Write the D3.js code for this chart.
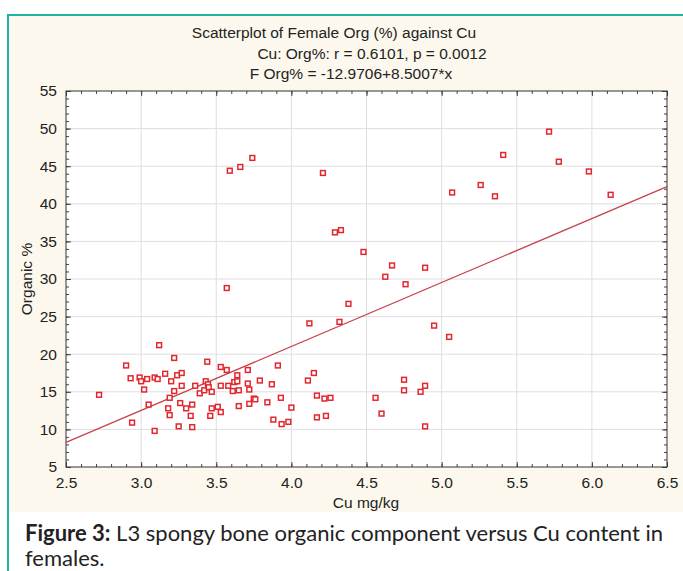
<!DOCTYPE html>
<html>
<head>
<meta charset="utf-8">
<script src="https://cdn.jsdelivr.net/npm/d3@7"></script>
<style>
  body { margin: 0; background: #ffffff; }
  svg { display: block; }
</style>
</head>
<body>
<div id="chart"></div>
<script>
// Cu content (mg/kg) for each female sample
var cuValues = [
    2.72, 2.90, 2.93, 2.94, 2.99, 3.00, 3.02, 3.04, 3.05, 3.09,
    3.09, 3.11, 3.12, 3.16, 3.18, 3.19, 3.19, 3.20, 3.22, 3.22,
    3.24, 3.25, 3.26, 3.27, 3.27, 3.30, 3.33, 3.34, 3.34, 3.36,
    3.39, 3.42, 3.43, 3.44, 3.445, 3.45, 3.46, 3.47, 3.47, 3.51,
    3.53, 3.53, 3.53, 3.57, 3.58, 3.61, 3.62, 3.64, 3.64, 3.65,
    3.65, 3.71, 3.71, 3.72, 3.72, 3.75, 3.76, 3.79, 3.84, 3.87,
    3.88, 3.91, 3.93, 3.935, 3.98, 4.00, 4.12, 4.11, 4.15, 4.17,
    4.22, 4.26, 4.17, 4.23, 4.56, 4.60, 4.75, 4.75, 4.86, 4.89,
    4.89, 4.38, 4.32, 4.95, 5.05, 3.59, 3.66, 3.74, 4.21, 4.29,
    4.33, 4.48, 4.67, 4.625, 3.57, 4.76, 4.89, 5.07, 5.26, 5.355,
    5.41, 5.715, 5.78, 5.98, 6.125
];

// Organic component (%) for the same samples
var orgValues = [
    14.6, 18.5, 16.8, 10.9, 16.9, 16.4, 15.3, 16.7, 13.3, 9.8,
    16.9, 16.7, 21.2, 17.4, 12.8, 14.2, 11.9, 16.4, 15.1, 19.5,
    17.2, 10.4, 13.5, 17.5, 15.8, 12.8, 11.8, 10.3, 13.3, 15.8,
    14.8, 15.2, 16.4, 19.0, 16.0, 15.6, 11.8, 15.0, 12.8, 13.0,
    18.3, 15.8, 12.3, 17.9, 15.8, 15.1, 16.3, 17.2, 16.4, 13.1,
    15.2, 17.9, 16.1, 15.3, 13.4, 14.1, 14.0, 16.5, 13.6, 16.0,
    11.3, 18.5, 14.2, 10.7, 11.0, 12.9, 24.1, 16.5, 17.5, 14.5,
    14.1, 14.2, 11.6, 11.8, 14.2, 12.1, 16.6, 15.2, 15.0, 15.8,
    10.4, 26.7, 24.3, 23.8, 22.3, 44.4, 44.9, 46.1, 44.1, 36.2,
    36.5, 33.6, 31.8, 30.3, 28.8, 29.3, 31.5, 41.5, 42.5, 41.0,
    46.5, 49.6, 45.6, 44.3, 41.2
];

// Axis ticks
var xTicks = [2.5, 3.0, 3.5, 4.0, 4.5, 5.0, 5.5, 6.0, 6.5];
var yTicks = [5, 10, 15, 20, 25, 30, 35, 40, 45, 50, 55];

// Regression line: F Org% = -12.9706 + 8.5007*x
var fitIntercept = -12.9706;
var fitSlope = 8.5007;

var titleLines = [
    "Scatterplot of Female Org (%) against Cu",
    "Cu: Org%: r = 0.6101, p = 0.0012",
    "F Org% = -12.9706+8.5007*x"
];

var width = 683, height = 571;
var plot = { left: 66, right: 667, top: 91, bottom: 467 };

var svg = d3.select("#chart")
    .append("svg")
    .attr("width", width)
    .attr("height", height);

// Cream panel with teal frame
svg.append("rect")
    .attr("x", 9).attr("y", 16)
    .attr("width", width - 9).attr("height", 496)
    .style("fill", "#fcf8ed");
svg.append("line")
    .attr("x1", 8).attr("x2", width).attr("y1", 15).attr("y2", 15)
    .style("stroke", "#1fb5a2").style("stroke-width", 2);
svg.append("line")
    .attr("x1", 8).attr("x2", 8).attr("y1", 14).attr("y2", height)
    .style("stroke", "#1fb5a2").style("stroke-width", 2);

var x = d3.scaleLinear().domain([2.5, 6.5]).range([plot.left, plot.right]);
var y = d3.scaleLinear().domain([5, 55]).range([plot.bottom, plot.top]);

// Plot background
svg.append("rect")
    .attr("x", plot.left).attr("y", plot.top)
    .attr("width", plot.right - plot.left).attr("height", plot.bottom - plot.top)
    .style("fill", "#ffffff");

// Grid lines
svg.append("g").selectAll("line")
    .data(xTicks.slice(1, -1))
    .enter().append("line")
    .attr("x1", function (d) { return x(d); })
    .attr("x2", function (d) { return x(d); })
    .attr("y1", plot.top).attr("y2", plot.bottom)
    .style("stroke", "#dedede").style("stroke-width", 1);

svg.append("g").selectAll("line")
    .data(yTicks.slice(1, -1))
    .enter().append("line")
    .attr("y1", function (d) { return y(d); })
    .attr("y2", function (d) { return y(d); })
    .attr("x1", plot.left).attr("x2", plot.right)
    .style("stroke", "#dedede").style("stroke-width", 1);

// Axes with inward ticks on all four sides
var axisFont = "'Liberation Sans', Arial, sans-serif";
var axisSize = "15.5px";

var xMinor = d3.range(25, 66).map(function (d) { return d / 10; });
var yMinor = d3.range(5, 56);

function styleAxis(g) {
    g.select(".domain").remove();
    g.selectAll("line").style("stroke", "#444");
    g.selectAll("text")
        .style("font-family", axisFont)
        .style("font-size", axisSize)
        .style("fill", "#222");
}

svg.append("g")
    .attr("transform", "translate(0," + plot.bottom + ")")
    .call(d3.axisBottom(x).tickValues(xMinor).tickSize(-3).tickFormat(""))
    .call(styleAxis);
svg.append("g")
    .attr("transform", "translate(0," + plot.bottom + ")")
    .call(d3.axisBottom(x).tickValues(xTicks).tickSize(-5).tickPadding(10)
        .tickFormat(d3.format(".1f")))
    .call(styleAxis);
svg.append("g")
    .attr("transform", "translate(0," + plot.top + ")")
    .call(d3.axisTop(x).tickValues(xMinor).tickSize(-3).tickFormat(""))
    .call(styleAxis);
svg.append("g")
    .attr("transform", "translate(0," + plot.top + ")")
    .call(d3.axisTop(x).tickValues(xTicks).tickSize(-5).tickFormat(""))
    .call(styleAxis);

svg.append("g")
    .attr("transform", "translate(" + plot.left + ",0)")
    .call(d3.axisLeft(y).tickValues(yMinor).tickSize(-3).tickFormat(""))
    .call(styleAxis);
svg.append("g")
    .attr("transform", "translate(" + plot.left + ",0)")
    .call(d3.axisLeft(y).tickValues(yTicks).tickSize(-5).tickPadding(9))
    .call(styleAxis);
svg.append("g")
    .attr("transform", "translate(" + plot.right + ",0)")
    .call(d3.axisRight(y).tickValues(yMinor).tickSize(-3).tickFormat(""))
    .call(styleAxis);
svg.append("g")
    .attr("transform", "translate(" + plot.right + ",0)")
    .call(d3.axisRight(y).tickValues(yTicks).tickSize(-5).tickFormat(""))
    .call(styleAxis);

// Plot frame
svg.append("rect")
    .attr("x", plot.left).attr("y", plot.top)
    .attr("width", plot.right - plot.left).attr("height", plot.bottom - plot.top)
    .style("fill", "none").style("stroke", "#333").style("stroke-width", 1);

// Regression line
svg.append("line")
    .attr("x1", x(2.5)).attr("y1", y(fitIntercept + fitSlope * 2.5))
    .attr("x2", x(6.5)).attr("y2", y(fitIntercept + fitSlope * 6.5))
    .style("stroke", "#c8414b").style("stroke-width", 1.2);

// Points as hollow squares
var points = cuValues.map(function (d, i) { return { cu: d, org: orgValues[i] }; });
var size = 4.8;
svg.append("g").selectAll("rect")
    .data(points)
    .enter().append("rect")
    .attr("x", function (d) { return x(d.cu) - size / 2; })
    .attr("y", function (d) { return y(d.org) - size / 2; })
    .attr("width", size).attr("height", size)
    .style("fill", "#ffffff")
    .style("stroke", "#e3262e")
    .style("stroke-width", 1.5);

// Titles
var titleX = [334, 372, 351];
var titleY = [38, 59, 79];
svg.append("g").selectAll("text")
    .data(titleLines)
    .enter().append("text")
    .attr("x", function (d, i) { return titleX[i]; })
    .attr("y", function (d, i) { return titleY[i]; })
    .attr("text-anchor", "middle")
    .style("font-family", axisFont)
    .style("font-size", axisSize)
    .style("fill", "#222")
    .text(function (d) { return d; });

// Axis titles
svg.append("text")
    .attr("x", 366).attr("y", 508)
    .attr("text-anchor", "middle")
    .style("font-family", axisFont).style("font-size", axisSize).style("fill", "#222")
    .text("Cu mg/kg");
svg.append("text")
    .attr("transform", "translate(32,279) rotate(-90)")
    .attr("text-anchor", "middle")
    .style("font-family", axisFont).style("font-size", axisSize).style("fill", "#222")
    .text("Organic %");

// Figure caption
var caption = svg.append("text")
    .attr("x", 25).attr("y", 541)
    .style("font-family", "Lato, 'Open Sans', sans-serif")
    .style("font-size", "22px")
    .style("fill", "#222");
caption.append("tspan").style("font-weight", "bold").text("Figure 3:");
caption.append("tspan").text(" L3 spongy bone organic component versus Cu content in");
svg.append("text")
    .attr("x", 25).attr("y", 566)
    .style("font-family", "Lato, 'Open Sans', sans-serif")
    .style("font-size", "22px")
    .style("fill", "#222")
    .text("females.");
</script>
</body>
</html>
